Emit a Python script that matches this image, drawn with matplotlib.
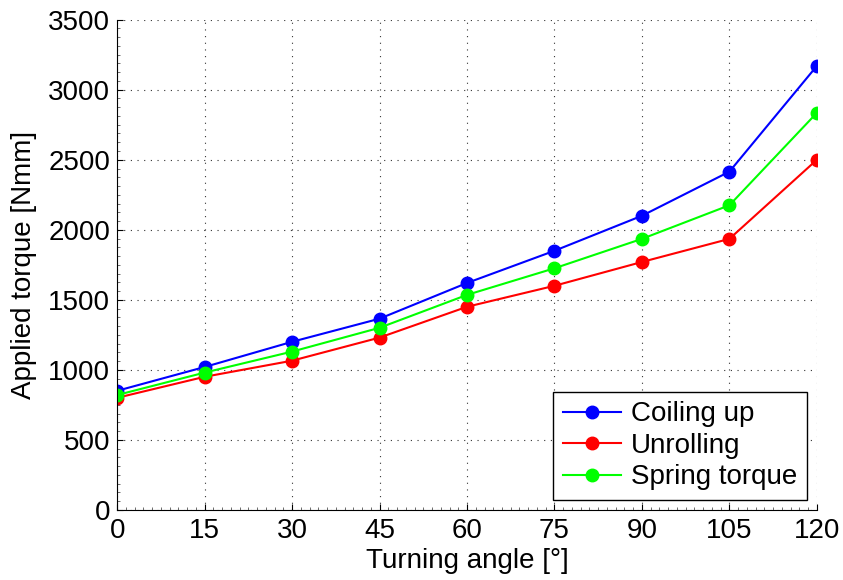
import matplotlib
matplotlib.use("Agg")
import matplotlib.pyplot as plt
from matplotlib.ticker import MultipleLocator, AutoMinorLocator

plt.rcParams['font.family'] = ['Liberation Sans', 'DejaVu Sans']

angles = [0, 15, 30, 45, 60, 75, 90, 105, 120]
coiling_up = [850, 1020, 1200, 1365, 1620, 1850, 2100, 2415, 3170]
unrolling = [800, 950, 1065, 1230, 1450, 1600, 1770, 1935, 2500]
spring_torque = [820, 980, 1130, 1300, 1535, 1725, 1935, 2175, 2835]

FS = 20

fig = plt.figure(figsize=(8.43, 5.80), dpi=100)
ax = fig.add_axes([0.139, 0.121, 0.830, 0.845])

kw = dict(marker='o', markersize=9, linewidth=1.5)
ax.plot(angles, coiling_up, color='#0000ff', label='Coiling up', **kw)
ax.plot(angles, unrolling, color='#ff0000', label='Unrolling', **kw)
ax.plot(angles, spring_torque, color='#00ff00', label='Spring torque', **kw)

ax.set_xlim(0, 120)
ax.set_ylim(0, 3500)
ax.xaxis.set_major_locator(MultipleLocator(15))
ax.yaxis.set_major_locator(MultipleLocator(500))
ax.xaxis.set_minor_locator(AutoMinorLocator(10))
ax.yaxis.set_minor_locator(AutoMinorLocator(8))

ax.grid(True, which='major', linestyle=(0, (1, 5)), color='#333333', linewidth=0.8)
ax.set_axisbelow(True)
for s in ['top', 'right']:
    ax.spines[s].set_visible(False)
for s in ['left', 'bottom']:
    ax.spines[s].set_linewidth(0.8)
ax.tick_params(which='major', direction='in', length=4, width=0.8, labelsize=FS)
ax.tick_params(axis='x', which='major', pad=6)
ax.tick_params(axis='y', which='major', pad=5)
ax.tick_params(which='minor', direction='in', length=2, width=0.6, color='#555555')

ax.set_xlabel('Turning angle [°]', fontsize=FS, labelpad=3)
ax.set_ylabel('Applied torque [Nmm]', fontsize=FS, labelpad=8)

leg = ax.legend(loc='lower right', fontsize=FS, fancybox=False, framealpha=1,
                edgecolor='black', handlelength=2.1, borderaxespad=0.35,
                labelspacing=0.2, handletextpad=0.35, borderpad=0.35)
leg.get_frame().set_linewidth(1.0)

fig.savefig('out.png', dpi=100)
